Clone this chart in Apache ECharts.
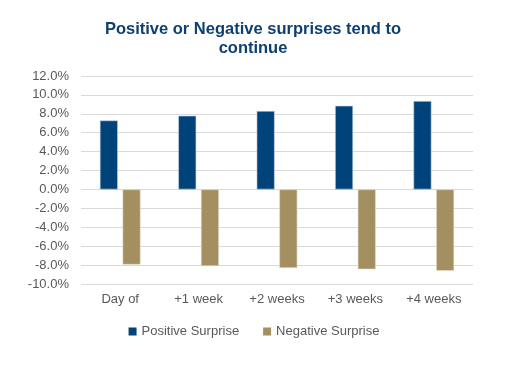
<!DOCTYPE html>
<html><head><meta charset="utf-8">
<script src="https://cdn.jsdelivr.net/npm/echarts@6/dist/echarts.min.js"></script>
<style>html,body{margin:0;padding:0;background:#fff}#c{width:508px;height:367px}</style>
</head><body><div id="c"></div>
<script>
const categories = ['Day of', '+1 week', '+2 weeks', '+3 weeks', '+4 weeks'];
const positiveSurprise = [7.3, 7.8, 8.3, 8.85, 9.35];
const negativeSurprise = [-7.95, -8.1, -8.3, -8.45, -8.6];
const seriesNames = ['Positive Surprise', 'Negative Surprise'];
const yMin = -10, yMax = 12, yStep = 2;

const chart = echarts.init(document.getElementById('c'));
const font = '"Liberation Sans", Arial, sans-serif';
chart.setOption({
  animation: false,
  textStyle: { fontFamily: font },
  title: {
    text: 'Positive or Negative surprises tend to\ncontinue',
    left: 248, top: 15, textAlign: 'center',
    textStyle: { fontFamily: font, fontSize: 16.5, fontWeight: 'bold', color: '#0E3F73', lineHeight: 19, align: 'center' }
  },
  grid: { left: 81, right: 35, top: 76, bottom: 83 },
  legend: {
    data: seriesNames, left: 'center', top: 320,
    itemWidth: 8, itemHeight: 8, itemGap: 24, icon: 'rect',
    itemStyle: { borderWidth: 0 },
    textStyle: { fontFamily: font, fontSize: 13, color: '#595959' }
  },
  xAxis: {
    type: 'category', data: categories,
    axisLine: { show: false, onZero: false }, axisTick: { show: false },
    axisLabel: { margin: 9, fontSize: 13, color: '#595959', fontFamily: font }
  },
  yAxis: {
    type: 'value', min: yMin, max: yMax, interval: yStep,
    axisLine: { show: false }, axisTick: { show: false },
    splitLine: { lineStyle: { color: '#D9D9D9', width: 1 } },
    axisLabel: { margin: 12, fontSize: 13, color: '#595959', fontFamily: font,
      formatter: v => v.toFixed(1) + '%' }
  },
  series: [
    { name: seriesNames[0], type: 'bar', data: positiveSurprise, barWidth: 18, barGap: '26%',
      itemStyle: { color: '#00437A', borderColor: '#C9D3E0', borderWidth: 0.6 } },
    { name: seriesNames[1], type: 'bar', data: negativeSurprise, barWidth: 18,
      itemStyle: { color: '#A38F5F', borderColor: '#E6DFCC', borderWidth: 0.6 } }
  ]
});
</script></body></html>
